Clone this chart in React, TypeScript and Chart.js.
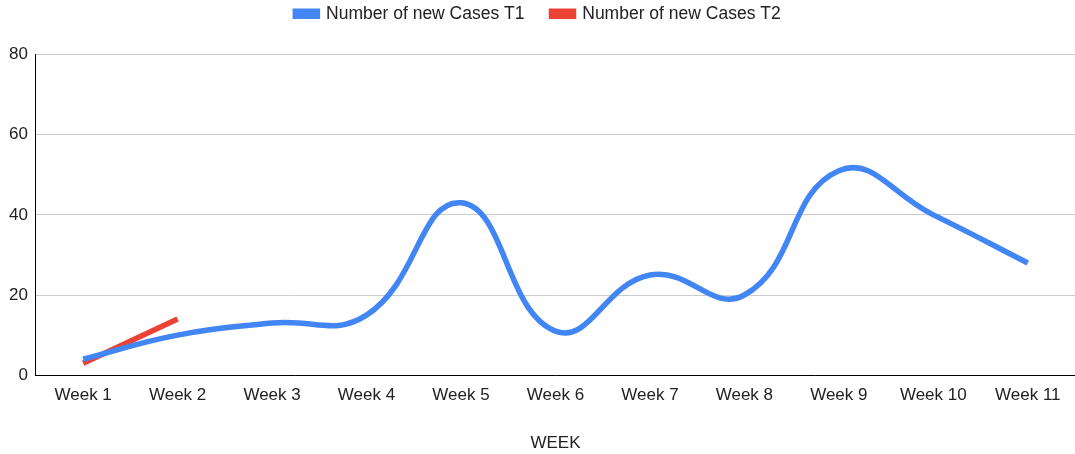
import React, { useEffect, useRef } from "react";
import { Chart, registerables } from "chart.js";

Chart.register(...registerables);

const categories = ["Week 1", "Week 2", "Week 3", "Week 4", "Week 5", "Week 6", "Week 7", "Week 8", "Week 9", "Week 10", "Week 11"];
const casesT1 = [4, 10, 13, 15, 43, 11, 25, 20, 51, 40, 28];
const casesT2 = [3, 14, null, null, null, null, null, null, null, null, null];
const yTicks = [0, 20, 40, 60, 80];

const FONT = "'Liberation Sans', Arial, sans-serif";

const legendGap = {
  id: "legendGap",
  beforeInit(chart: any) {
    const legend = chart.legend;
    if (!legend) return;
    const origFit = legend.fit;
    legend.fit = function () {
      origFit.call(this);
      this.height += 22;
    };
  },
};

export default function App() {
  const ref = useRef<HTMLCanvasElement | null>(null);

  useEffect(() => {
    document.body.style.margin = "0";
    const ctx = ref.current!.getContext("2d")!;
    const chart = new Chart(ctx, {
      type: "line",
      data: {
        labels: categories,
        datasets: [
          {
            label: "Number of new Cases T1",
            data: casesT1,
            borderColor: "#4285F4",
            backgroundColor: "#4285F4",
            borderWidth: 5.5,
            pointRadius: 0,
            tension: 0.45,
          },
          {
            label: "Number of new Cases T2",
            data: casesT2,
            borderColor: "#EA4335",
            backgroundColor: "#EA4335",
            borderWidth: 5.5,
            pointRadius: 0,
            tension: 0,
          },
        ],
      },
      options: {
        animation: false,
        responsive: false,
        maintainAspectRatio: false,
        layout: { padding: { left: 1, right: 0, top: -22, bottom: 0 } },
        plugins: {
          legend: {
            position: "top",
            labels: {
              boxWidth: 22,
              boxHeight: 5,
              padding: 27,
              color: "#222",
              font: { family: FONT, size: 17.5 },
            },
          },
          tooltip: { enabled: false },
        },
        scales: {
          x: {
            offset: true,
            grid: { display: false, drawTicks: false },
            border: { color: "#000", width: 1 },
            ticks: { color: "#222", font: { family: FONT, size: 17 }, padding: 10, maxRotation: 0, autoSkip: false },
            title: { display: true, text: "WEEK", color: "#222", font: { family: FONT, size: 17 }, padding: { top: 18, bottom: 0 } },
          },
          y: {
            min: 0,
            max: 80,
            afterBuildTicks: (axis: any) => {
              axis.ticks = yTicks.map((v) => ({ value: v }));
            },
            grid: { color: "#cccccc", drawTicks: false },
            border: { color: "#000", width: 1 },
            ticks: { color: "#222", font: { family: FONT, size: 17 }, padding: 8 },
          },
        },
      },
      plugins: [legendGap],
    });
    return () => chart.destroy();
  }, []);

  return (
    <div style={{ width: 1075, height: 454 }}>
      <canvas ref={ref} width={1075} height={454} style={{ display: "block" }} />
    </div>
  );
}
